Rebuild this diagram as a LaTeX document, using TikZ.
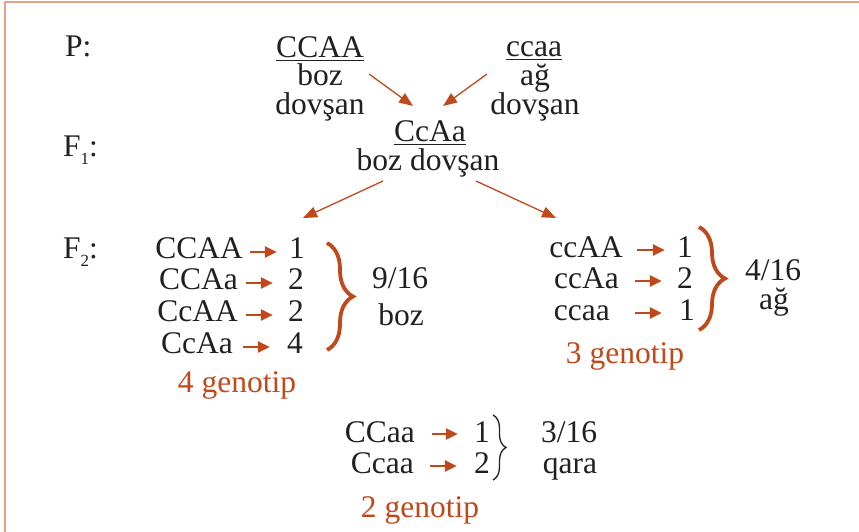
\documentclass[tikz,border=0pt]{standalone}
\usepackage{fontspec}
\setmainfont{Liberation Serif}
\usepackage{tikz}
\usetikzlibrary{arrows.meta,decorations.pathreplacing}
\definecolor{genorange}{RGB}{192,72,26}
\definecolor{framecol}{RGB}{226,162,132}
\definecolor{inkgray}{RGB}{35,31,32}
\newcommand{\lowsub}[1]{\raisebox{-8pt}{\fontsize{17}{17}\selectfont #1}}
\newcommand{\genline}[1]{\raisebox{0pt}[\height][0pt]{\underline{#1}}}

\begin{document}
\begin{tikzpicture}[x=1pt,y=-1pt,inkgray,
        every node/.style={inner sep=0pt,font=\fontsize{31.5}{32}\selectfont}]
        %
        % `txt' and `gen' are the black texts, `note' the orange counts of genotypes.
        % `cross' links the generations, `count' points from genotype to number.
        % `group' is the orange brace round a phenotype class.
        \tikzstyle{txt} = [anchor=base]
        \tikzstyle{gen} = [anchor=base east]
        \tikzstyle{note} = [anchor=base,text=genorange]
        \tikzstyle{cross} = [genorange,line width=1.3pt,-{Triangle[length=14pt,width=11pt]}]
        \tikzstyle{count} = [genorange,line width=2.6pt,-{Triangle[length=12pt,width=11pt]}]
        \tikzstyle{group} = [genorange,line width=3.8pt,decorate,decoration={brace,amplitude=26pt}]
        \useasboundingbox (0,0) rectangle (859,532);
        \draw[framecol,line width=2pt] (5,532) -- (5,2) -- (859,2);
        %
        % Generations
        \node[anchor=base west] (lp) at (65,57) {P:};
        \node[anchor=base west] (lf1) at (63,157) {F\lowsub{1}:};
        \node[anchor=base west] (lf2) at (63,258) {F\lowsub{2}:};
        %
        % Parents
        \node[txt] (pc) at (320,58) {\genline{CCAA}};
        \node[txt] (pcb) at (320,86) {boz};
        \node[txt] (pcd) at (320,115) {dovşan};
        \node[txt] (pw) at (534,57) {\genline{ccaa}};
        \node[txt] (pwb) at (535,86) {ağ};
        \node[txt] (pwd) at (535,115) {dovşan};
        %
        % F1
        \node[txt] (fc) at (430,142) {\genline{CcAa}};
        \node[txt] (fb) at (428,170) {boz dovşan};
        \coordinate (a1) at (369,74);
        \coordinate (a2) at (413,106);
        \coordinate (b1) at (487,74);
        \coordinate (b2) at (443,106);
        \coordinate (c1) at (383,181);
        \coordinate (c2) at (303,218);
        \coordinate (d1) at (476,181);
        \coordinate (d2) at (556,218);
        \draw[cross] (a1) -- (a2);
        \draw[cross] (b1) -- (b2);
        \draw[cross] (c1) -- (c2);
        \draw[cross] (d1) -- (d2);
        %
        % F2, grey
        \node[gen] (g1) at (243,258) {CCAA};
        \node[gen] (g2) at (238,289) {CCAa};
        \node[gen] (g3) at (238,321) {CcAA};
        \node[gen] (g4) at (233,353) {CcAa};
        \node[txt] (n1) at (297,258) {1};
        \node[txt] (n2) at (296,289) {2};
        \node[txt] (n3) at (296,321) {2};
        \node[txt] (n4) at (295,353) {4};
        \draw[count,shorten <=7pt,shorten >=12pt] ([yshift=6pt]g1.base east) -- ([yshift=6pt]n1.base west);
        \draw[count,shorten <=8pt,shorten >=15pt] ([yshift=6pt]g2.base east) -- ([yshift=6pt]n2.base west);
        \draw[count,shorten <=8pt,shorten >=15pt] ([yshift=6pt]g3.base east) -- ([yshift=6pt]n3.base west);
        \draw[count,shorten <=10pt,shorten >=17pt] ([yshift=6pt]g4.base east) -- ([yshift=6pt]n4.base west);
        \draw[group] (327,243) -- (327,350);
        \node[txt] (r1) at (400,288) {9/16};
        \node[txt] (r1b) at (401,325) {boz};
        \node[note] (k1) at (237,392) {4 genotip};
        %
        % F2, white
        \node[gen] (w1) at (623,257) {ccAA};
        \node[gen] (w2) at (619,288) {ccAa};
        \node[gen] (w3) at (610,320) {ccaa};
        \node[txt] (m1) at (685,257) {1};
        \node[txt] (m2) at (685,288) {2};
        \node[txt] (m3) at (687,320) {1};
        \draw[count,shorten <=14pt,shorten >=12pt] ([yshift=7pt]w1.base east) -- ([yshift=7pt]m1.base west);
        \draw[count,shorten <=16pt,shorten >=15pt] ([yshift=7pt]w2.base east) -- ([yshift=7pt]m2.base west);
        \draw[count,shorten <=25pt,shorten >=17pt] ([yshift=7pt]w3.base east) -- ([yshift=7pt]m3.base west);
        \draw[group] (699,227) -- (699,330);
        \node[txt] (r2) at (773,280) {4/16};
        \node[txt] (r2b) at (774,309) {ağ};
        \node[note] (k2) at (625,363) {3 genotip};
        %
        % F2, black
        \node[gen] (q1) at (415,442) {CCaa};
        \node[gen] (q2) at (414,473) {Ccaa};
        \node[txt] (s1) at (482,442) {1};
        \node[txt] (s2) at (482,473) {2};
        \draw[count,shorten <=17pt,shorten >=16pt] ([yshift=8pt]q1.base east) -- ([yshift=8pt]s1.base west);
        \draw[count,shorten <=16pt,shorten >=17pt] ([yshift=7pt]q2.base east) -- ([yshift=7pt]s2.base west);
        \draw[line width=1.3pt,decorate,decoration={brace,amplitude=13pt}] (493,415) -- (493,480);
        \node[txt] (r3) at (569,442) {3/16};
        \node[txt] (r3b) at (570,473) {qara};
        \node[note] (k3) at (420,517) {2 genotip};
        %
    \end{tikzpicture}
\end{document}
